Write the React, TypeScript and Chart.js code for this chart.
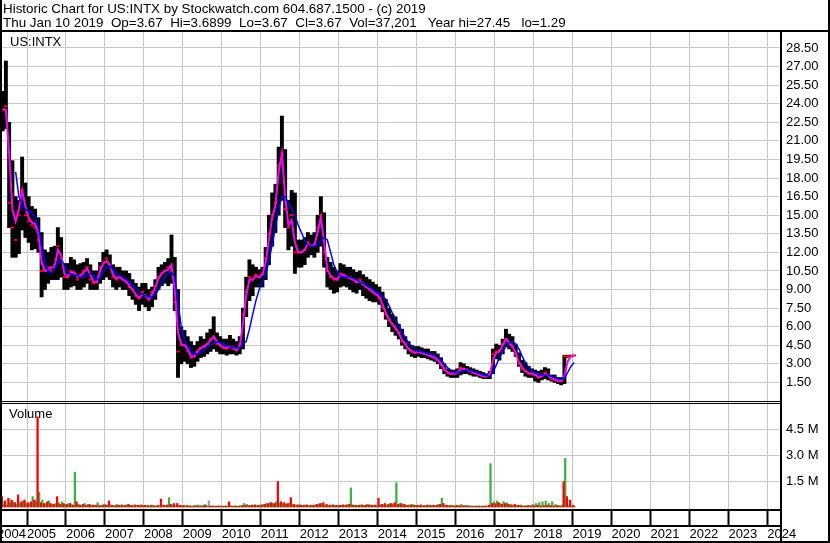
import React, { useEffect, useRef } from 'react';
import { Chart, registerables } from 'chart.js';
Chart.register(...registerables);

// ---- categories: monthly bars starting April 2004 ----
const START_YEAR = 2004;
const START_MONTH = 4;

// ---- price series (monthly high / low / close) ----
const highs = [
  27.3, 25.0, 27.45, 22.5, 19.4, 16.5, 16.2, 19.7, 17.6,
  16.5, 15.7, 15.5, 14.8, 13.6, 12.2, 12.0, 12.4, 12.5, 14.0, 13.2, 11.1,
  11.1, 11.6, 11.4, 11.0, 11.1, 11.2, 11.5, 11.0, 10.5, 10.5, 11.2, 12.0,
  12.2, 11.8, 11.0, 10.8, 10.8, 10.5, 10.5, 10.3, 9.8, 9.5, 9.2, 9.5,
  9.5, 9.0, 9.2, 9.8, 10.8, 11.0, 11.2, 11.5, 13.4, 11.6, 9.0, 6.0,
  5.7, 5.2, 4.8, 4.5, 4.8, 5.2, 5.0, 5.5, 5.8, 6.8, 5.5, 5.2,
  5.0, 5.0, 5.3, 5.0, 4.8, 5.2, 7.5, 10.0, 11.4, 11.0, 10.8, 10.6,
  10.8, 12.4, 15.0, 16.8, 17.5, 20.5, 23.0, 20.3, 16.2, 17.0, 16.8, 13.0,
  13.0, 13.2, 13.6, 13.4, 13.6, 15.0, 16.5, 15.2, 11.6, 11.2, 10.8, 10.5,
  11.1, 11.0, 10.8, 10.8, 10.6, 10.4, 10.5, 10.2, 10.0, 9.8, 9.6, 9.4,
  9.2, 8.8, 8.2, 7.5, 7.0, 6.8, 6.2, 5.8, 5.2, 4.8, 4.5, 4.4,
  4.4, 4.3, 4.2, 4.2, 4.0, 4.0, 3.8, 3.5, 3.0, 2.6, 2.5, 2.5,
  2.6, 3.1, 3.0, 2.8, 2.7, 2.6, 2.5, 2.4, 2.3, 2.2, 2.4, 4.2,
  4.6, 4.5, 5.0, 5.8, 5.4, 5.2, 4.6, 3.9, 3.3, 3.1, 2.8, 2.6,
  2.5, 2.4, 2.5, 2.7, 2.6, 2.1, 2.1, 1.9, 1.9, 3.7, 3.7, 3.7,
  3.69,
];
const lows = [
  21.9, 21.8, 22.0, 14.0, 11.6, 11.6, 11.9, 13.8, 13.2,
  12.8, 12.2, 12.3, 12.0, 8.4, 9.0, 9.5, 9.8, 9.8, 9.8, 10.0, 9.0,
  9.0, 9.2, 9.3, 9.0, 9.0, 9.2, 9.5, 9.0, 9.0, 9.0, 9.5, 9.8,
  10.0, 9.8, 9.2, 9.0, 9.2, 9.0, 9.0, 8.5, 8.2, 7.8, 7.3, 7.8,
  7.6, 7.3, 7.6, 8.2, 9.0, 9.3, 9.5, 9.3, 9.5, 7.3, 1.9, 3.0,
  3.2, 3.0, 2.7, 2.8, 3.2, 3.5, 3.6, 3.8, 4.0, 4.2, 4.0, 3.8,
  3.8, 3.7, 3.8, 3.8, 3.7, 3.8, 4.2, 6.8, 8.1, 8.5, 9.2, 9.2,
  9.2, 9.8, 11.0, 12.5, 13.6, 15.0, 16.2, 14.0, 12.2, 12.5, 10.3, 10.8,
  10.8, 11.0, 11.6, 11.8, 11.6, 12.0, 12.5, 10.8, 9.2, 9.0, 8.7, 8.8,
  9.2, 9.3, 9.2, 9.0, 8.8, 8.7, 9.0, 8.5, 8.3, 8.1, 8.0, 8.0,
  7.8, 7.2, 6.6, 6.0, 5.6, 5.3, 5.0, 4.5, 4.2, 3.8, 3.6, 3.5,
  3.6, 3.5, 3.5, 3.4, 3.3, 3.2, 3.0, 2.6, 2.2, 2.0, 1.9, 1.9,
  1.9, 2.1, 2.2, 2.2, 2.1, 2.0, 2.0, 1.9, 1.8, 1.8, 1.8, 2.2,
  3.4, 3.3, 3.8, 4.4, 4.2, 4.0, 3.6, 2.8, 2.3, 2.0, 1.9, 1.9,
  1.6, 1.5, 1.7, 1.8, 1.7, 1.6, 1.5, 1.4, 1.3, 1.4, 3.5, 3.55,
  3.67,
];
const closes = [
  23.0, 23.5, 23.8, 16.0, 14.0, 13.0, 15.0, 17.0, 15.0,
  14.5, 14.2, 14.0, 13.0, 10.5, 10.5, 10.8, 10.5, 11.0, 12.5, 11.5, 10.0,
  10.0, 10.5, 10.3, 9.8, 10.2, 10.5, 10.8, 9.8, 9.5, 9.6, 10.8, 11.2,
  11.5, 11.0, 10.0, 9.8, 10.0, 9.8, 9.6, 9.2, 9.0, 8.5, 8.3, 8.8,
  8.5, 8.2, 8.8, 9.3, 10.0, 10.3, 10.5, 10.8, 10.5, 8.0, 4.0, 4.5,
  4.5, 4.0, 3.5, 3.6, 4.0, 4.3, 4.4, 4.6, 5.0, 5.2, 4.6, 4.5,
  4.3, 4.2, 4.4, 4.2, 4.1, 4.5, 7.0, 8.8, 10.0, 9.8, 10.2, 10.0,
  10.3, 11.5, 13.5, 15.0, 16.0, 19.0, 20.0, 15.5, 14.0, 15.0, 12.0, 12.0,
  12.0, 12.2, 12.8, 12.5, 12.6, 14.0, 15.0, 12.0, 10.5, 10.0, 9.8, 9.8,
  10.3, 10.2, 10.0, 10.0, 9.8, 9.6, 9.8, 9.5, 9.2, 9.0, 8.8, 8.6,
  8.3, 7.6, 7.0, 6.5, 6.2, 5.8, 5.5, 4.8, 4.6, 4.2, 4.0, 3.9,
  4.0, 3.9, 3.8, 3.7, 3.6, 3.5, 3.3, 2.9, 2.5, 2.3, 2.2, 2.2,
  2.3, 2.7, 2.6, 2.5, 2.4, 2.3, 2.2, 2.1, 2.0, 2.0, 2.2, 3.8,
  4.0, 4.1, 4.6, 5.0, 4.6, 4.4, 3.8, 3.0, 2.6, 2.4, 2.2, 2.2,
  2.1, 1.9, 2.0, 2.3, 2.1, 1.8, 1.7, 1.6, 1.6, 3.6, 3.6, 3.65,
  3.67,
];
// short moving average (magenta)
const maFast = [
  null, 23.6, 23.5, 20.0, 15.5, 14.5, 15.5, 17.0, 15.7,
  14.8, 14.4, 14.3, 13.5, 11.2, 10.5, 10.6, 10.8, 10.8, 12.2, 11.8, 10.3,
  10.0, 10.4, 10.4, 10.0, 10.1, 10.4, 10.7, 10.2, 9.6, 9.6, 10.5, 11.1,
  11.3, 11.0, 10.2, 9.9, 10.0, 9.8, 9.7, 9.3, 9.0, 8.6, 8.3, 8.6,
  8.5, 8.2, 8.6, 9.2, 9.9, 10.3, 10.5, 10.6, 11.0, 9.0, 5.5, 4.6,
  4.5, 4.2, 3.6, 3.6, 4.0, 4.3, 4.4, 4.6, 4.9, 5.2, 4.8, 4.5,
  4.3, 4.3, 4.4, 4.3, 4.1, 4.4, 6.2, 8.5, 9.8, 9.8, 10.1, 10.0,
  10.2, 11.2, 13.0, 14.8, 15.8, 18.5, 20.0, 16.5, 14.2, 14.6, 12.8, 12.0,
  12.0, 12.2, 12.7, 12.5, 12.6, 13.6, 14.8, 12.8, 10.6, 10.1, 9.9, 9.8,
  10.2, 10.2, 10.0, 9.9, 9.8, 9.6, 9.7, 9.4, 9.2, 9.0, 8.8, 8.6,
  8.4, 7.8, 7.1, 6.6, 6.2, 5.9, 5.5, 4.9, 4.6, 4.2, 4.0, 3.9,
  3.95, 3.9, 3.8, 3.7, 3.6, 3.5, 3.3, 3.0, 2.6, 2.3, 2.2, 2.2,
  2.25, 2.6, 2.6, 2.5, 2.4, 2.3, 2.2, 2.1, 2.0, 2.0, 2.1, 3.3,
  3.9, 4.0, 4.5, 5.0, 4.7, 4.4, 3.9, 3.1, 2.7, 2.4, 2.25, 2.2,
  2.1, 1.95, 2.0, 2.2, 2.1, 1.85, 1.75, 1.65, 1.6, 2.0, 3.2, 3.6,
  3.67,
];
// long moving average (blue)
const maSlow = [
  null, null, null, null, null, 18.5, 16.5, 15.8, 15.5,
  15.3, 15.2, 14.8, 14.0, 12.6, 11.2, 10.5, 10.3, 10.7, 11.2, 11.4, 11.0,
  10.5, 10.2, 10.2, 10.1, 10.0, 10.0, 10.2, 10.3, 10.1, 9.8, 9.9, 10.4,
  10.8, 10.9, 10.6, 10.3, 10.1, 10.0, 9.8, 9.6, 9.4, 9.1, 8.8, 8.6,
  8.5, 8.4, 8.4, 8.6, 9.0, 9.5, 10.0, 10.3, 10.4, 10.0, 8.0, 6.0,
  5.0, 4.4, 4.0, 3.8, 3.8, 3.9, 4.1, 4.3, 4.5, 4.7, 4.8, 4.7,
  4.6, 4.5, 4.4, 4.3, 4.3, 4.3, 4.6, 4.8, 5.8, 7.0, 8.1, 9.0,
  9.6, 10.2, 11.3, 12.6, 14.0, 15.5, 16.5, 16.5, 16.0, 15.5, 15.0, 14.2,
  13.6, 13.0, 12.6, 12.5, 12.5, 12.6, 12.9, 13.2, 13.0, 12.0, 11.0, 10.4,
  10.1, 10.0, 10.0, 10.0, 9.9, 9.8, 9.6, 9.5, 9.3, 9.2, 9.0, 8.8,
  8.7, 8.5, 8.2, 7.7, 7.1, 6.6, 6.1, 5.6, 5.1, 4.7, 4.4, 4.2,
  4.0, 4.0, 3.9, 3.8, 3.8, 3.7, 3.5, 3.3, 3.0, 2.7, 2.5, 2.3,
  2.3, 2.35, 2.45, 2.5, 2.45, 2.4, 2.3, 2.2, 2.1, 2.05, 2.0, 2.3,
  2.9, 3.5, 4.0, 4.4, 4.7, 4.8, 4.6, 4.2, 3.6, 3.1, 2.7, 2.45,
  2.3, 2.2, 2.1, 2.1, 2.1, 2.0, 1.9, 1.8, 1.75, 1.85, 2.3, 2.8,
  3.1,
];

// ---- volume series (millions) ----
const volUp = [
  0.15, 0.2, 0.1, 0.25, 0.3, 0.15, 0.2, 0.35, 0.2,
  0.2, 0.6, 0.3, 0.85, 0.4, 0.2, 0.35, 0.15, 0.2, 0.25, 0.3, 0.15,
  0.2, 0.15, 2.0, 0.15, 0.1, 0.2, 0.15, 0.1, 0.12, 0.25, 0.1, 0.15,
  0.1, 0.12, 0.08, 0.15, 0.1, 0.08, 0.12, 0.1, 0.08, 0.1, 0.07, 0.08,
  0.08, 0.06, 0.1, 0.07, 0.1, 0.12, 0.08, 0.54, 0.12, 0.08, 0.1, 0.06,
  0.05, 0.08, 0.06, 0.1, 0.12, 0.1, 0.15, 0.08, 0.06, 0.05, 0.06, 0.05,
  0.06, 0.05, 0.07, 0.06, 0.05, 0.08, 0.2, 0.15, 0.1, 0.12, 0.08, 0.1,
  0.15, 0.2, 0.25, 0.2, 0.3, 0.25, 0.2, 0.15, 0.2, 0.15, 0.1, 0.12,
  0.1, 0.12, 0.08, 0.1, 0.12, 0.15, 0.2, 0.1, 0.08, 0.12, 0.1, 0.08,
  0.1, 0.12, 0.15, 1.1, 0.1, 0.08, 0.12, 0.1, 0.15, 0.12, 0.1, 0.08,
  0.12, 0.15, 0.1, 0.2, 0.15, 1.4, 0.2, 0.15, 0.1, 0.12, 0.15, 0.1,
  0.1, 0.08, 0.1, 0.12, 0.1, 0.08, 0.15, 0.5, 0.1, 0.08, 0.1, 0.06,
  0.08, 0.15, 0.1, 0.08, 0.06, 0.05, 0.06, 0.05, 0.06, 0.05, 2.5, 0.3,
  0.35, 0.2, 0.3, 0.25, 0.15, 0.1, 0.08, 0.1, 0.06, 0.08, 0.1, 0.15,
  0.2, 0.25, 0.3, 0.35, 0.2, 0.3, 0.15, 0.1, 0.12, 2.8, 0.1, 0.05,
  0.02,
];
const volDown = [
  0.3, 0.6, 0.35, 0.5, 0.4, 0.25, 0.7, 0.3, 0.4,
  0.25, 0.3, 0.4, 5.2, 0.25, 0.2, 0.3, 0.2, 0.15, 0.6, 0.15, 0.2,
  0.15, 0.2, 0.1, 0.3, 0.12, 0.15, 0.1, 0.15, 0.1, 0.1, 0.08, 0.1,
  0.12, 0.35, 0.1, 0.08, 0.1, 0.12, 0.1, 0.15, 0.1, 0.12, 0.1, 0.12,
  0.1, 0.08, 0.1, 0.06, 0.08, 0.46, 0.1, 0.12, 0.15, 0.2, 0.2, 0.1,
  0.1, 0.08, 0.06, 0.05, 0.06, 0.05, 0.06, 0.08, 0.05, 0.06, 0.05, 0.06,
  0.05, 0.06, 0.3, 0.05, 0.06, 0.05, 0.08, 0.1, 0.08, 0.1, 0.12, 0.1,
  0.12, 0.15, 0.2, 0.25, 0.2, 1.46, 0.3, 0.25, 0.2, 0.54, 0.15, 0.12,
  0.12, 0.1, 0.12, 0.1, 0.1, 0.15, 0.2, 0.25, 0.15, 0.1, 0.12, 0.1,
  0.1, 0.12, 0.1, 0.15, 0.12, 0.1, 0.1, 0.12, 0.1, 0.12, 0.1, 0.1,
  0.5, 0.15, 0.2, 0.15, 0.2, 0.25, 0.15, 0.2, 0.15, 0.1, 0.12, 0.1,
  0.1, 0.12, 0.08, 0.1, 0.08, 0.1, 0.1, 0.15, 0.2, 0.1, 0.08, 0.08,
  0.1, 0.08, 0.06, 0.07, 0.06, 0.05, 0.05, 0.06, 0.05, 0.06, 0.1, 0.2,
  0.2, 0.25, 0.15, 0.2, 0.15, 0.12, 0.15, 0.1, 0.08, 0.06, 0.08, 0.06,
  0.08, 0.1, 0.06, 0.08, 0.1, 0.08, 0.06, 0.08, 0.05, 1.46, 0.6, 0.4,
  0.1,
];
// unchanged-day volume (grey), month index -> value
const volFlatMonths = [0, 64];
const volFlatValues = [0.6, 0.36];

// ---- axes ----
const X_MIN = 2004.307;
const X_MAX = 2024.35;
const xTickValues = [2004.23, 2005, 2006, 2007, 2008, 2009, 2010, 2011, 2012, 2013, 2014, 2015, 2016, 2017, 2018, 2019, 2020, 2021, 2022, 2023, 2024];
const xTickLabels = ['2004', '2005', '2006', '2007', '2008', '2009', '2010', '2011', '2012', '2013', '2014', '2015', '2016', '2017', '2018', '2019', '2020', '2021', '2022', '2023', '2024'];
const PRICE_MIN = 0;
const PRICE_MAX = 29.87;
const priceTickValues = [1.5, 3, 4.5, 6, 7.5, 9, 10.5, 12, 13.5, 15, 16.5, 18, 19.5, 21, 22.5, 24, 25.5, 27, 28.5];
const priceTickLabels = ['1.50', '3.00', '4.50', '6.00', '7.50', '9.00', '10.50', '12.00', '13.50', '15.00', '16.50', '18.00', '19.50', '21.00', '22.50', '24.00', '25.50', '27.00', '28.50'];
const VOL_MIN = -0.173;
const VOL_MAX = 6.116;
const volTickValues = [1.5, 3, 4.5];
const volTickLabels = ['1.5 M', '3.0 M', '4.5 M'];

const headerLine1 = 'Historic Chart for US:INTX by Stockwatch.com 604.687.1500 - (c) 2019';
const headerLine2 = 'Thu Jan 10 2019  Op=3.67  Hi=3.6899  Lo=3.67  Cl=3.67  Vol=37,201   Year hi=27.45   lo=1.29';
const symbolLabel = 'US:INTX';
const volumeLabel = 'Volume';

const FONT = 'Arial, "Liberation Sans", sans-serif';

const monthX = (i: number) => START_YEAR + (START_MONTH - 1 + i + 0.5) / 12;

const framePlugin = {
  id: 'stockFrame',
  afterDraw(chart: any) {
    const ctx = chart.ctx as CanvasRenderingContext2D;
    ctx.save();
    ctx.fillStyle = '#000';
    ctx.font = `13.4px ${FONT}`;
    ctx.textBaseline = 'alphabetic';
    ctx.textAlign = 'left';
    ctx.fillText(headerLine1, 3, 13);
    ctx.fillText(headerLine2, 3, 27);
    ctx.font = `13px ${FONT}`;
    ctx.fillText(symbolLabel, 10, 46);
    ctx.fillText(volumeLabel, 9, 418);
    // frame lines
    ctx.fillRect(0, 30, 830, 2);
    ctx.fillRect(780, 30, 2, 513);
    ctx.fillRect(0, 401, 780, 1);
    ctx.fillRect(0, 403, 780, 1);
    ctx.fillRect(0, 509, 780, 2);
    ctx.fillRect(0, 525, 780, 2);
    ctx.fillRect(0, 541, 830, 2);
    ctx.fillRect(0, 0, 2, 543);
    ctx.fillRect(828, 0, 2, 543);
    ctx.restore();
  },
};

export default function App() {
  const ref = useRef<HTMLCanvasElement | null>(null);
  useEffect(() => {
    document.body.style.margin = '0';
    const canvas = ref.current!;
    const pts = (arr: (number | null)[]) => arr.map((v, i) => ({ x: monthX(i), y: v }));
    const flat = highs.map((_, i) => {
      const k = volFlatMonths.indexOf(i);
      return { x: monthX(i), y: k >= 0 ? volFlatValues[k] : null };
    });
    const chart = new Chart(canvas, {
      type: 'bar',
      data: {
        datasets: [
          {
            type: 'line', label: 'slow', data: pts(maSlow), yAxisID: 'price',
            borderColor: '#0000ff', borderWidth: 1.5, pointRadius: 0, pointHoverRadius: 0, order: 0, spanGaps: false,
          } as any,
          {
            type: 'line', label: 'fast', data: pts(maFast), yAxisID: 'price',
            borderColor: '#ff00ff', borderWidth: 2, pointRadius: 0, pointHoverRadius: 0, order: 1, spanGaps: false,
          } as any,
          {
            type: 'line', label: 'close', data: pts(closes), yAxisID: 'price', showLine: false,
            pointStyle: 'line', pointRadius: 1.6, pointHoverRadius: 1.6, pointBorderColor: '#ff0000', pointBorderWidth: 2,
            borderColor: '#ff0000', order: 2,
          } as any,
          {
            type: 'bar', label: 'range', data: highs.map((h, i) => ({ x: monthX(i), y: [lows[i], h] })),
            yAxisID: 'price', backgroundColor: '#000', grouped: false, barPercentage: 1, categoryPercentage: 1, order: 3,
          } as any,
          {
            type: 'bar', label: 'down', data: pts(volDown), yAxisID: 'vol', backgroundColor: '#ff0000',
            barThickness: 1.6, grouped: true, skipNull: true, order: 4,
          } as any,
          {
            type: 'bar', label: 'up', data: pts(volUp), yAxisID: 'vol', backgroundColor: '#3cb043',
            barThickness: 1.6, grouped: true, skipNull: true, order: 5,
          } as any,
          {
            type: 'bar', label: 'flat', data: flat, yAxisID: 'vol', backgroundColor: '#a0a0a0',
            barThickness: 1.6, grouped: true, skipNull: true, order: 6,
          } as any,
        ],
      },
      options: {
        animation: false,
        responsive: false,
        devicePixelRatio: 1,
        layout: { autoPadding: false, padding: { top: 31, left: 0, right: 0, bottom: 0 } },
        plugins: { legend: { display: false }, tooltip: { enabled: false } },
        scales: {
          x: {
            type: 'linear', position: 'bottom', min: X_MIN, max: X_MAX, offset: false,
            afterBuildTicks: (s: any) => { s.ticks = xTickValues.map((v) => ({ value: v })); },
            afterFit: (s: any) => { s.height = 33; s.paddingLeft = 0; s.paddingRight = 0; },
            grid: { offset: false, color: '#c8c8c8', lineWidth: 1, drawTicks: true, tickLength: 15, tickColor: '#000', tickWidth: 2 },
            border: { display: false },
            ticks: {
              autoSkip: false, maxRotation: 0, minRotation: 0, align: 'start', padding: 0, color: '#000',
              font: { family: FONT, size: 13, lineHeight: 1.45 },
              callback: (_v: any, i: number) => xTickLabels[i],
            },
          },
          price: {
            type: 'linear', position: 'right', stack: 'main', stackWeight: 370, min: PRICE_MIN, max: PRICE_MAX,
            afterBuildTicks: (s: any) => { s.ticks = priceTickValues.map((v) => ({ value: v })); },
            afterFit: (s: any) => { s.width = 49; s.paddingTop = 0; s.paddingBottom = 0; },
            grid: { color: '#c8c8c8', lineWidth: 1, drawTicks: false },
            border: { display: false },
            ticks: {
              autoSkip: false, padding: 5, color: '#000', font: { family: FONT, size: 13 },
              callback: (_v: any, i: number) => priceTickLabels[i],
            },
          },
          vol: {
            type: 'linear', position: 'right', stack: 'main', stackWeight: 109, min: VOL_MIN, max: VOL_MAX,
            afterBuildTicks: (s: any) => { s.ticks = volTickValues.map((v) => ({ value: v })); },
            afterFit: (s: any) => { s.width = 49; s.paddingTop = 0; s.paddingBottom = 0; },
            grid: { color: '#c8c8c8', lineWidth: 1, drawTicks: false },
            border: { display: false },
            ticks: {
              autoSkip: false, padding: 5, color: '#000', font: { family: FONT, size: 13 },
              callback: (_v: any, i: number) => volTickLabels[i],
            },
          },
        },
      } as any,
      plugins: [framePlugin],
    });
    return () => chart.destroy();
  }, []);
  return (
    <div style={{ width: 830, height: 543 }}>
      <canvas ref={ref} width={830} height={543} style={{ display: 'block' }} />
    </div>
  );
}
